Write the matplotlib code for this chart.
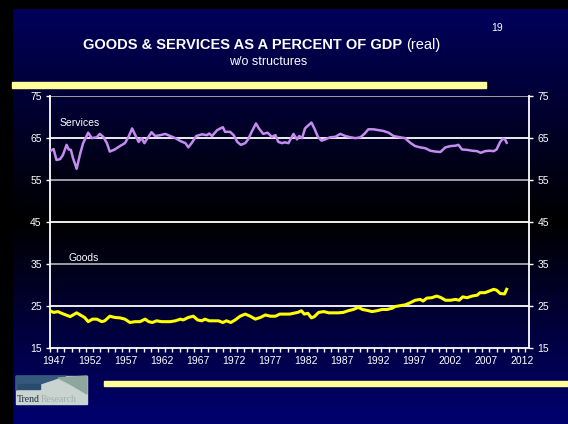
import numpy as np
import matplotlib
matplotlib.use("Agg")
import matplotlib.pyplot as plt
from matplotlib.patches import Rectangle, Polygon

plt.rcParams['font.family'] = ['Liberation Sans', 'DejaVu Sans']

# Services share of real GDP (%), by year
services_years = [1947.1, 1947.5, 1947.9, 1948.4, 1948.8, 1949.3, 1949.6, 1949.9, 1950.2, 1950.7,
                  1951.2, 1951.6, 1952.3, 1952.8, 1953.5, 1953.9, 1954.4, 1954.9, 1955.3, 1956.0,
                  1956.7, 1957.4, 1957.9, 1958.4, 1958.9, 1959.3, 1959.7, 1960.1, 1960.4, 1961.1,
                  1961.6, 1962.3, 1963.0, 1963.7, 1964.4, 1965.1, 1965.8, 1966.2, 1966.7, 1967.3,
                  1968.1, 1968.8, 1969.1, 1969.5, 1970.2, 1971.0, 1971.3, 1972.0, 1972.5, 1973.0,
                  1973.5, 1974.1, 1974.5, 1975.0, 1975.6, 1976.0, 1976.6, 1977.2, 1977.8, 1978.3,
                  1978.7, 1979.2, 1979.6, 1980.1, 1980.8, 1981.3, 1981.6, 1982.0, 1982.4, 1982.9,
                  1983.3, 1983.7, 1984.2, 1984.7, 1985.2, 1985.9, 1986.6, 1987.3, 1988.0, 1988.7,
                  1989.4, 1990.1, 1990.7, 1991.2, 1991.9, 1992.6, 1993.3, 1994.0, 1994.7, 1995.6,
                  1996.3, 1997.0, 1997.7, 1998.4, 1999.1, 1999.8, 2000.5, 2001.2, 2001.9, 2002.6,
                  2003.3, 2003.7, 2004.2, 2004.9, 2005.6, 2006.3, 2006.8, 2007.4, 2008.0, 2008.6,
                  2009.0, 2009.5, 2009.9, 2010.2, 2010.4]
services = [61.9, 62.3, 59.7, 59.9, 60.9, 63.3, 62.2, 62.1, 60.1, 57.6,
            61.3, 63.7, 66.2, 64.9, 65.1, 65.9, 65.2, 63.7, 61.7, 62.2,
            63.0, 63.7, 65.2, 67.2, 65.4, 64.0, 64.9, 63.7, 64.5, 66.3,
            65.4, 65.6, 65.9, 65.4, 64.9, 64.2, 63.7, 62.7, 63.8, 65.4,
            65.8, 65.6, 66.0, 65.4, 66.8, 67.5, 66.4, 66.4, 65.6, 64.0,
            63.3, 63.7, 64.6, 66.4, 68.4, 67.2, 65.9, 66.2, 65.2, 65.6,
            64.0, 63.7, 63.9, 63.7, 65.9, 64.6, 65.4, 64.9, 67.2, 68.0,
            68.6, 67.2, 65.2, 64.3, 64.6, 65.1, 65.2, 65.9, 65.4, 65.1,
            64.9, 65.1, 66.0, 67.0, 67.0, 66.8, 66.6, 66.2, 65.4, 65.1,
            64.9, 63.8, 63.0, 62.7, 62.5, 61.9, 61.7, 61.6, 62.7, 63.0,
            63.1, 63.3, 62.2, 62.1, 61.9, 61.8, 61.4, 61.8, 61.9, 61.8,
            62.2, 64.0, 64.8, 64.5, 63.8]

# Goods share of real GDP (%), by year
goods_years = [1947.0, 1947.5, 1948.1, 1948.6, 1949.2, 1949.8, 1950.2, 1950.7, 1951.2, 1951.8,
               1952.3, 1952.9, 1953.5, 1954.2, 1954.6, 1955.3, 1956.0, 1956.7, 1957.4, 1958.1,
               1958.8, 1959.5, 1960.2, 1960.7, 1961.2, 1961.8, 1962.5, 1963.0, 1963.7, 1964.4,
               1965.1, 1965.5, 1966.2, 1966.9, 1967.5, 1968.1, 1968.5, 1969.1, 1969.7, 1970.4,
               1971.0, 1971.5, 1972.1, 1972.7, 1973.4, 1974.1, 1974.8, 1975.5, 1976.2, 1976.9,
               1977.6, 1978.3, 1978.9, 1979.6, 1980.3, 1980.8, 1981.4, 1981.9, 1982.3, 1982.8,
               1983.3, 1983.7, 1984.3, 1985.0, 1985.7, 1986.3, 1987.0, 1987.7, 1988.4, 1989.1,
               1989.8, 1990.4, 1991.0, 1991.7, 1992.4, 1993.1, 1993.8, 1994.5, 1994.9, 1995.6,
               1996.3, 1997.0, 1997.7, 1998.4, 1998.8, 1999.3, 2000.0, 2000.7, 2001.3, 2001.9,
               2002.6, 2003.3, 2003.8, 2004.3, 2004.9, 2005.6, 2006.3, 2006.7, 2007.4, 2008.0,
               2008.6, 2009.0, 2009.5, 2010.1, 2010.4]
goods = [23.8, 23.4, 23.6, 23.2, 22.8, 22.4, 22.8, 23.3, 22.8, 22.2,
         21.2, 21.8, 21.8, 21.2, 21.4, 22.5, 22.2, 22.1, 21.8, 21.0,
         21.2, 21.2, 21.8, 21.2, 21.0, 21.4, 21.2, 21.2, 21.2, 21.4,
         21.8, 21.6, 22.2, 22.5, 21.6, 21.4, 21.8, 21.4, 21.4, 21.4,
         21.0, 21.4, 21.0, 21.6, 22.5, 23.0, 22.5, 21.8, 22.2, 22.8,
         22.5, 22.5, 23.0, 23.0, 23.0, 23.2, 23.4, 23.8, 23.0, 23.2,
         22.1, 22.4, 23.4, 23.6, 23.3, 23.3, 23.3, 23.4, 23.8, 24.1,
         24.6, 24.1, 23.9, 23.6, 23.8, 24.1, 24.1, 24.4, 24.8, 25.0,
         25.2, 25.7, 26.3, 26.5, 26.1, 26.8, 26.9, 27.3, 26.9, 26.3,
         26.3, 26.5, 26.3, 27.1, 26.9, 27.3, 27.5, 28.1, 28.1, 28.5,
         28.9, 28.7, 27.9, 27.8, 28.9]

y_ticks = [15, 25, 35, 45, 55, 65, 75]
x_labels = list(range(1947, 2013, 5))

W, H = 568, 424
fig = plt.figure(figsize=(W / 100, H / 100), dpi=100)

# slide background: navy at top and bottom, fading to black through the middle
bg = fig.add_axes([0, 0, 1, 1])
bg.set_xlim(0, W)
bg.set_ylim(H, 0)
bg.axis('off')


def ramp(t):
    top = np.array([0, 0, 96]) / 255
    mid = np.array([0, 0, 0]) / 255
    bot = np.array([0, 0, 112]) / 255
    out = np.empty((t.size, 3))
    c = 0.52
    a = t < c
    f = (t[a] / c)[:, None]
    out[a] = top * (1 - f) + mid * f
    f = ((t[~a] - c) / (1 - c))[:, None]
    out[~a] = mid * (1 - f) + bot * f
    return out


grad = ramp(np.linspace(0, 1, 400))[:, None, :]
bg.imshow(grad, extent=[0, W, H, 0], aspect='auto', zorder=0)
# dark frame along the top and left edges
bg.add_patch(Rectangle((0, 0), W, 8, color='black', zorder=1))
bg.add_patch(Rectangle((0, 0), 12, H, color='black', zorder=1))

# yellow accent bars
bg.add_patch(Rectangle((12, 82), 474, 6, color='#ffff99', zorder=2))
bg.add_patch(Rectangle((104, 381), 464, 5, color='#ffff99', zorder=2))

# title: bold main part followed by a regular "(real)"
fig.canvas.draw()
r = fig.canvas.get_renderer()
tm = bg.text(0, 45, 'GOODS & SERVICES AS A PERCENT OF GDP ', color='white', fontsize=10.5,
             fontweight='bold', ha='left', va='center', zorder=3)
tr = bg.text(0, 45, '(real)', color='white', fontsize=10.5, ha='left', va='center', zorder=3)
wm = tm.get_window_extent(r).width
wr = tr.get_window_extent(r).width
x0 = 262 - (wm + wr) / 2
tm.set_x(x0)
tr.set_x(x0 + wm)
bg.text(268, 62, 'w/o structures', color='white', fontsize=9, ha='center', va='center', zorder=3)
bg.text(497, 28, '19', color='white', fontsize=7.5, ha='center', va='center', zorder=3)

# logo block
bg.add_patch(Rectangle((16, 376), 71, 28, color='#c9d3d0', zorder=3))
bg.add_patch(Polygon([(16, 376), (16, 390), (40, 384), (58, 378), (66, 376)],
                     closed=True, color='#35597a', zorder=4))
bg.add_patch(Polygon([(58, 378), (70, 384), (87, 394), (87, 376)],
                     closed=True, color='#8fa6a0', zorder=4))
bg.add_patch(Rectangle((18, 384), 22, 5, color='#294b6e', zorder=5))
bg.text(17, 399, 'Trend', color='#1c2c3c', fontsize=7, family='Liberation Serif',
        ha='left', va='center', zorder=6)
bg.text(41, 399, 'Research', color='#9fb1ac', fontsize=7, family='Liberation Serif',
        ha='left', va='center', zorder=6)

# chart axes
L, R, T, B = 50, 529, 95.7, 347.7
ax = fig.add_axes([L / W, 1 - B / H, (R - L) / W, (B - T) / H])
ax.patch.set_alpha(0)
ax.set_xlim(1947, 2013.5)
ax.set_ylim(15, 75)

for v in y_ticks[1:]:
    col = 'white' if (v - 25) % 20 == 0 else '#a8a8a8'
    ax.axhline(v, color=col, lw=1.3, zorder=1)

ax.plot(services_years, services, color='#c58cf0', lw=1.8, zorder=3)
ax.plot(goods_years, goods, color='#ffff00', lw=2.2, zorder=3)

ax.text(1948.3, 67.2, 'Services', color='white', fontsize=7.5, ha='left', va='bottom')
ax.text(1949.5, 35.2, 'Goods', color='white', fontsize=7.5, ha='left', va='bottom')

for s in ['left', 'right', 'bottom']:
    ax.spines[s].set_color('white')
    ax.spines[s].set_linewidth(1.3)
ax.spines['top'].set_visible(False)

ax.set_yticks(y_ticks)
ax.tick_params(axis='y', colors='white', labelsize=7.5, length=3, width=1,
               left=True, right=True, labelleft=True, labelright=True, pad=3)
ax.set_xticks([y + 0.5 for y in x_labels])
ax.set_xticklabels([str(y) for y in x_labels])
ax.set_xticks(range(1947, 2014), minor=True)
ax.tick_params(axis='x', which='major', length=0, colors='white', labelsize=7.5, pad=6)
ax.tick_params(axis='x', which='minor', length=3, width=1, color='white', direction='out')

fig.savefig('out.png', dpi=100)
